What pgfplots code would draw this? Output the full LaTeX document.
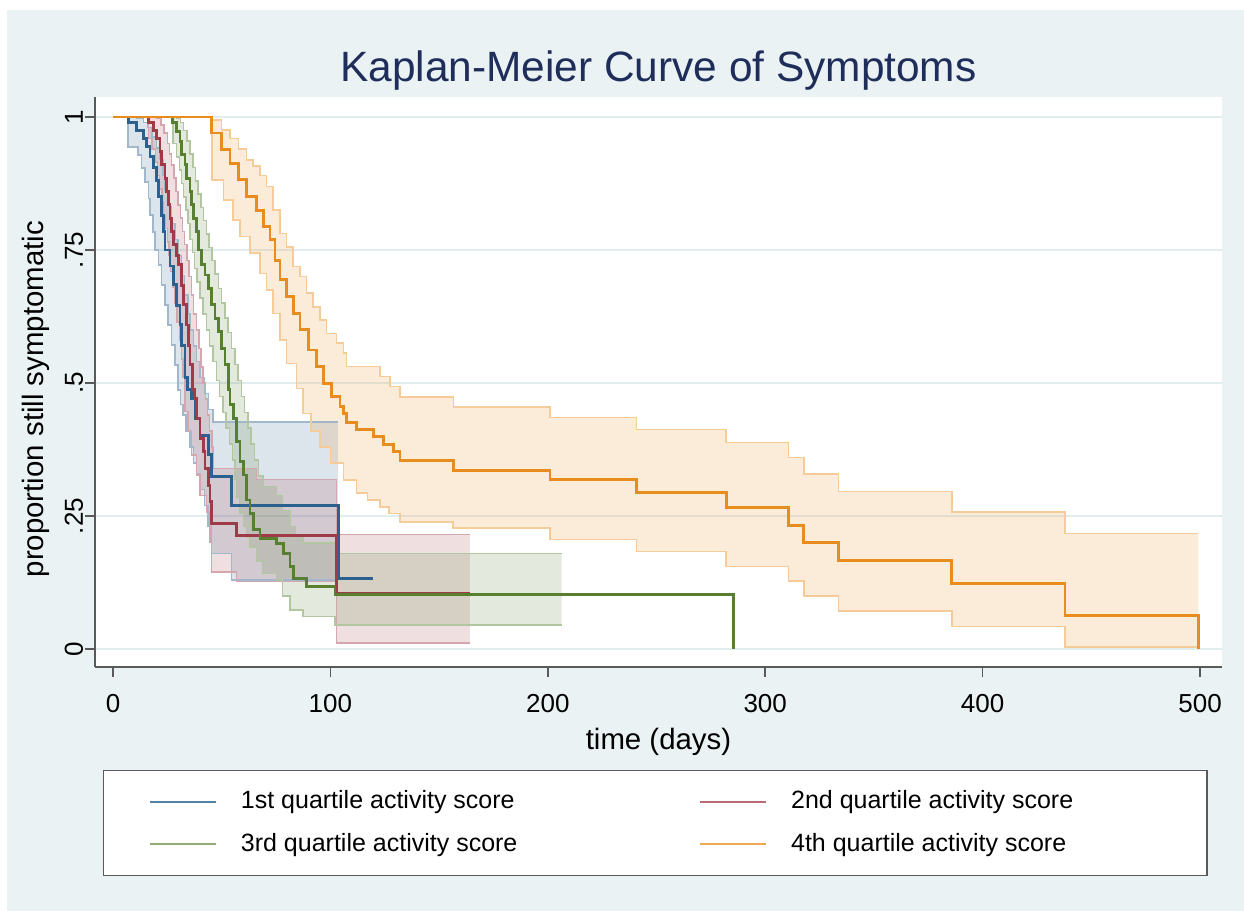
\documentclass[border=0pt]{standalone}
\usepackage{fontspec}
\setmainfont{Liberation Sans}
\usepackage{pgfplots}
\pgfplotsset{compat=1.18}
\usepgfplotslibrary{fillbetween}
\definecolor{bgc}{HTML}{EAF2F3}
\definecolor{gridc}{HTML}{E2EDEF}
\definecolor{axc}{HTML}{5A5A5A}
\definecolor{titc}{RGB}{30,45,90}
\definecolor{cA}{RGB}{44,96,142}
\definecolor{cB}{RGB}{160,58,72}
\definecolor{cC}{RGB}{86,128,48}
\definecolor{cD}{RGB}{232,140,30}
\pgfplotsset{
  band/.style={const plot, forget plot, line width=0.75pt, draw=#1!45!white},
  kmline/.style={const plot, forget plot, line width=1.45pt, draw=#1},
  bandfill/.style={fill=#1, fill opacity=0.16, draw=none, forget plot},
}
\begin{document}
\begin{tikzpicture}
\path (0,0) rectangle (622pt,455.5pt);
\begin{axis}[
  at={(47.5pt,122pt)}, anchor=south west,
  scale only axis, width=563.5pt, height=285pt,
  xmin=-8.28, xmax=510.1, ymin=-0.0338, ymax=1.0376,
  axis x line*=bottom, axis y line*=left,
  axis line style={axc, line width=0.75pt},
  axis background/.style={fill=white, preaction={draw=bgc, line width=640pt}},
  xtick={0,100,200,300,400,500}, xticklabels={0,100,200,300,400,500},
  ytick={0,0.25,0.5,0.75,1}, yticklabels={0,.25,.5,.75,1},
  tick align=outside, major tick length=5pt,
  tick style={axc, line width=0.75pt},
  ymajorgrids, grid style={gridc, line width=0.75pt},
  tick label style={font=\fontsize{13}{15}\selectfont, black},
  xticklabel style={anchor=base, yshift=-18pt},
  yticklabel style={xshift=-1pt, rotate=90, anchor=base},
  title={Kaplan-Meier Curve of Symptoms},
  title style={at={(axis description cs:0.5,1)}, anchor=base, yshift=1.5pt, font=\fontsize{21.2}{25}\selectfont, color=titc},
  xlabel={time (days)},
  xlabel style={at={(axis description cs:0.5,0)}, anchor=base, yshift=-41.5pt, font=\fontsize{14.7}{17}\selectfont},
  ylabel={proportion still symptomatic},
  ylabel style={at={(axis description cs:-0.0453,0.47)}, anchor=base, font=\fontsize{14.7}{17}\selectfont},
  no markers,
  legend columns=2,
  legend cell align=left,
  legend style={at={(axis description cs:0.0071,-0.1807)}, anchor=north west, draw=axc, line width=0.75pt, fill=white, inner xsep=22.5pt, inner ysep=10pt, row sep=10pt, font=\fontsize{12.5}{15}\selectfont, nodes={inner sep=0pt, text depth=0.21em}, /tikz/every odd column/.append style={column sep=12pt}},
  legend image code/.code={\draw[#1, line width=1.1pt] (0pt,0pt) -- (33pt,0pt);},
]
% ---------- Q1 band ----------
\addplot[band=cA, name path=q1u] coordinates {(0,1) (11,0.998) (14,0.990) (16,0.980) (18,0.962) (20,0.942) (21.5,0.920) (23,0.890) (24,0.862) (25.5,0.832) (27,0.800) (28.5,0.770) (30,0.740) (31.5,0.702) (33,0.665) (34.5,0.630) (35.5,0.600) (37,0.570) (38.5,0.540) (40,0.510) (42,0.480) (44,0.450) (46,0.427) (103.6,0.427)};
\addplot[band=cA, name path=q1l] coordinates {(0,1) (7,0.944) (11.6,0.929) (13.2,0.904) (14.7,0.878) (16.3,0.847) (17,0.816) (18.5,0.784) (19.3,0.750) (20.9,0.722) (22.4,0.684) (23.9,0.647) (25.4,0.609) (27,0.571) (28.5,0.534) (30,0.487) (31,0.460) (32.3,0.440) (33.5,0.410) (35.4,0.380) (37,0.350) (38.5,0.330) (40,0.300) (42,0.270) (43.8,0.230) (45.4,0.180) (54.6,0.130) (103.6,0.130)};
\addplot[bandfill=cA] fill between[of=q1u and q1l];
% ---------- Q2 band ----------
\addplot[band=cB, name path=q2u] coordinates {(0,1) (20,0.998) (22,0.985) (23.5,0.970) (25,0.950) (26,0.930) (27,0.910) (28,0.885) (29,0.860) (30,0.835) (31,0.810) (32,0.785) (33,0.760) (34,0.730) (35,0.700) (36,0.665) (37,0.630) (38.5,0.600) (39.5,0.565) (40.5,0.530) (41.5,0.500) (42.5,0.470) (43.5,0.440) (44.5,0.410) (45.5,0.380) (46.1,0.339) (66,0.319) (102.9,0.215) (164.2,0.215)};
\addplot[band=cB, name path=q2l] coordinates {(0,1) (16.3,0.960) (18,0.940) (19.5,0.915) (20.5,0.890) (21.5,0.865) (22.5,0.840) (23.3,0.815) (24,0.790) (25,0.765) (25.7,0.740) (26.5,0.710) (27.5,0.680) (28.5,0.650) (29.5,0.615) (30.5,0.580) (31.5,0.545) (32.3,0.510) (33.1,0.446) (34.6,0.409) (36.2,0.365) (38.5,0.327) (40,0.289) (43.1,0.258) (44.6,0.200) (45.4,0.145) (56.9,0.127) (102.9,0.011) (164.2,0.011)};
\addplot[bandfill=cB] fill between[of=q2u and q2l];
% ---------- Q3 band ----------
\addplot[band=cC, name path=q3u] coordinates {(0,1) (29.3,0.998) (31,0.990) (32.5,0.975) (34,0.955) (35.5,0.930) (36.8,0.905) (38,0.880) (39.2,0.855) (40.5,0.830) (41.7,0.805) (43,0.780) (44.2,0.755) (45.5,0.730) (47,0.705) (48.5,0.678) (50,0.650) (51.5,0.622) (53,0.595) (54.5,0.565) (56,0.535) (57.5,0.505) (59,0.475) (60.5,0.445) (62,0.415) (63.5,0.385) (65,0.355) (67,0.325) (69,0.305) (75.3,0.289) (78,0.260) (81.4,0.230) (84,0.215) (87.5,0.199) (103.6,0.180) (206.4,0.180)};
\addplot[band=cC, name path=q3l] coordinates {(0,1) (27.5,0.950) (29.3,0.925) (30.5,0.900) (31.5,0.875) (32.5,0.850) (33.5,0.825) (34.5,0.800) (35.5,0.770) (36.5,0.745) (37.5,0.715) (38.7,0.690) (40,0.660) (41.5,0.630) (43,0.600) (44.5,0.570) (46,0.540) (47.5,0.505) (49,0.475) (50.5,0.445) (52,0.415) (53.5,0.385) (55,0.355) (56,0.320) (57,0.285) (58.4,0.255) (60,0.230) (61.5,0.210) (63,0.192) (66,0.165) (69.1,0.142) (75.3,0.130) (78,0.100) (81.4,0.073) (87.5,0.061) (102.1,0.045) (206.4,0.045)};
\addplot[bandfill=cC] fill between[of=q3u and q3l];
% ---------- Q4 band ----------
\addplot[band=cD, name path=q4u] coordinates {(0,1.000) (45.5,0.994) (50.0,0.976) (53.8,0.960) (57.7,0.940) (61.5,0.919) (64.5,0.908) (67.6,0.890) (70.7,0.869) (73.7,0.825) (76.8,0.781) (79.9,0.756) (82.9,0.719) (86.0,0.700) (89.1,0.669) (92.1,0.643) (95.2,0.618) (98.3,0.593) (102.9,0.575) (106.0,0.556) (107.5,0.531) (122.8,0.512) (127.4,0.493) (132.0,0.474) (156.6,0.455) (201.0,0.435) (240.9,0.413) (282.0,0.388) (310.8,0.360) (317.8,0.329) (333.8,0.296) (385.8,0.258) (437.9,0.217) (499.2,0.217)};
\addplot[band=cD, name path=q4l] coordinates {(0,1.000) (45.5,0.882) (50.8,0.844) (55.3,0.806) (58.4,0.775) (63.0,0.744) (67.6,0.706) (70.7,0.675) (73.7,0.631) (76.8,0.581) (79.9,0.537) (84.5,0.490) (87.5,0.443) (91.0,0.410) (95.2,0.380) (100.0,0.350) (106.0,0.318) (112.0,0.293) (117.0,0.280) (122.8,0.267) (127.0,0.255) (132.0,0.239) (156.5,0.227) (201.0,0.206) (240.9,0.183) (282.0,0.155) (310.8,0.128) (317.8,0.100) (333.8,0.071) (385.8,0.042) (437.9,0.004) (499.2,0.004)};
\addplot[bandfill=cD] fill between[of=q4u and q4l];
% ---------- survival lines ----------
\addplot[kmline=cA] coordinates {(0,1) (7,0.990) (10.9,0.975) (13.9,0.960) (15.5,0.945) (17,0.925) (18.5,0.905) (20.1,0.880) (20.9,0.850) (22.4,0.815) (23.1,0.785) (23.9,0.750) (26.2,0.720) (27.7,0.685) (29.3,0.645) (30.8,0.610) (31.6,0.570) (33.1,0.510) (34.2,0.487) (36.2,0.470) (37.7,0.434) (40,0.402) (43.8,0.365) (45.4,0.324) (54.6,0.269) (103.6,0.133) (119.8,0.133)};
\addplot[kmline=cB] coordinates {(0,1) (16.3,0.990) (18.5,0.975) (20.1,0.960) (21.6,0.935) (22.4,0.910) (23.9,0.885) (24.7,0.860) (25.4,0.835) (26.2,0.810) (27,0.785) (27.7,0.760) (29,0.740) (30,0.722) (31.6,0.684) (32.3,0.647) (33.6,0.609) (34.6,0.571) (35.4,0.534) (36.7,0.487) (37.5,0.471) (38.5,0.434) (40,0.396) (41.5,0.371) (42.3,0.340) (43.8,0.308) (44.6,0.277) (45.4,0.236) (56.9,0.214) (102.9,0.105) (164.2,0.105)};
\addplot[kmline=cC] coordinates {(0,1) (27.5,0.990) (29.3,0.972) (30.8,0.954) (31.6,0.929) (33.1,0.910) (33.9,0.885) (35.4,0.860) (36.2,0.835) (36.9,0.810) (38.5,0.784) (39.2,0.750) (40.8,0.722) (42.3,0.703) (43.8,0.678) (45.4,0.647) (46.9,0.622) (48.4,0.597) (50,0.565) (51.5,0.534) (53,0.487) (53.8,0.459) (55.3,0.434) (56.9,0.390) (58.4,0.352) (59.9,0.327) (61.5,0.280) (63,0.255) (64.5,0.224) (67.6,0.208) (75.3,0.199) (78.3,0.180) (81.4,0.155) (82.9,0.133) (89.1,0.117) (102.1,0.102) (285.2,0.000)};
\addplot[kmline=cD] coordinates {(0,1.000) (45.5,0.970) (50.0,0.939) (53.8,0.913) (57.7,0.882) (61.5,0.850) (66.1,0.825) (69.2,0.794) (72.2,0.769) (74.5,0.731) (76.8,0.694) (79.9,0.662) (82.9,0.631) (86.0,0.600) (89.8,0.562) (93.7,0.531) (96.7,0.499) (100.6,0.474) (104.4,0.455) (106.0,0.443) (107.5,0.425) (112.0,0.412) (119.7,0.400) (124.3,0.385) (129.0,0.371) (132.0,0.355) (156.5,0.336) (201.0,0.318) (240.9,0.294) (282.0,0.266) (310.8,0.233) (317.8,0.200) (333.8,0.167) (385.8,0.123) (437.9,0.063) (499.2,0.000)};
% ---------- legend ----------
\addlegendimage{cA!80!white}
\addlegendentry{\makebox[229pt][l]{1st quartile activity score}}
\addlegendimage{cB!75!white}
\addlegendentry{\makebox[185.5pt][l]{2nd quartile activity score}}
\addlegendimage{cC!65!white}
\addlegendentry{\makebox[229pt][l]{3rd quartile activity score}}
\addlegendimage{cD!75!white}
\addlegendentry{\makebox[185.5pt][l]{4th quartile activity score}}
\end{axis}
\fill[white] (0,450.5pt) rectangle (622pt,455.5pt);
\fill[white] (0,0) rectangle (3.5pt,455.5pt);
\pgfresetboundingbox
\path (0,0) rectangle (622pt,455.5pt);
\end{tikzpicture}
\end{document}
